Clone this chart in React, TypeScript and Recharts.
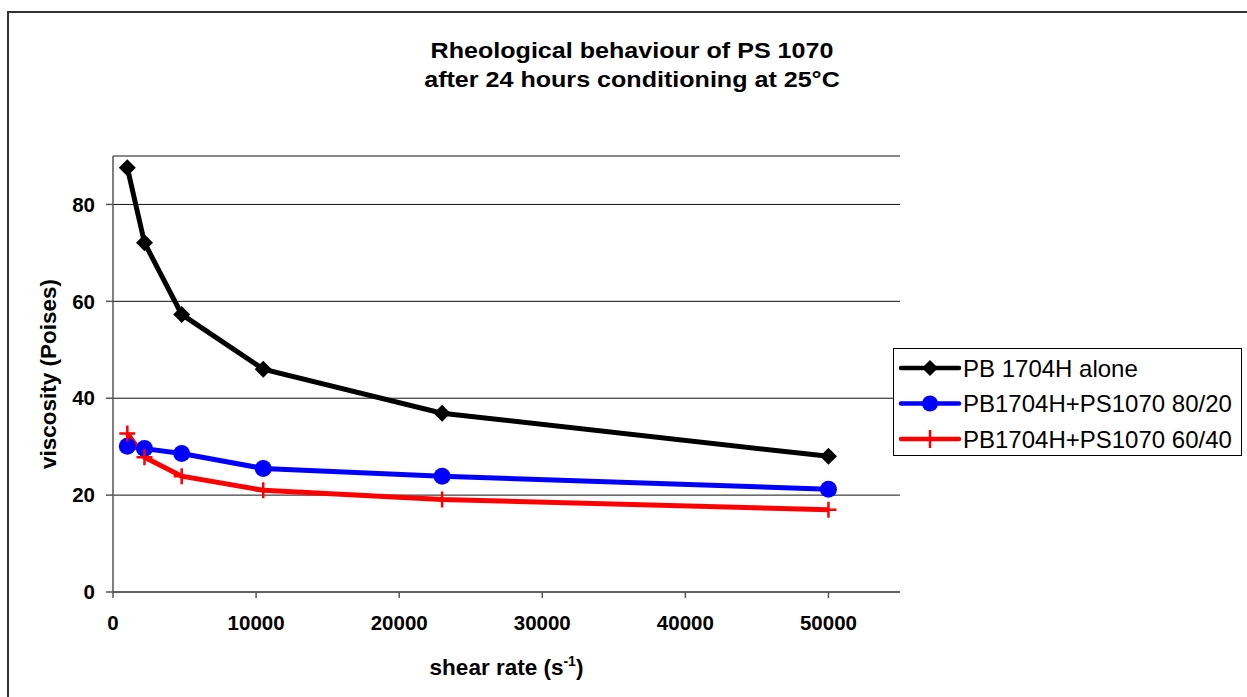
import React from 'react';
import { LineChart, Line, XAxis, YAxis, CartesianGrid, Legend } from 'recharts';

const shearRate = [1000, 2200, 4800, 10500, 23000, 50000];
const pbAlone = [87.6, 72.1, 57.3, 46.0, 36.9, 28.0];
const blend8020 = [30.1, 29.6, 28.6, 25.5, 23.9, 21.2];
const blend6040 = [32.7, 27.8, 23.9, 21.0, 19.1, 17.0];

const xTicks = [0, 10000, 20000, 30000, 40000, 50000];
const yTicks = [0, 20, 40, 60, 80];

const seriesNames = ['PB 1704H alone', 'PB1704H+PS1070 80/20', 'PB1704H+PS1070 60/40'];
const seriesColors = ['#000000', '#0000FF', '#FF0000'];

const titleLines = ['Rheological behaviour of PS 1070', 'after 24 hours conditioning at 25°C'];

const data = shearRate.map((x, i) => ({
  x,
  a: pbAlone[i],
  b: blend8020[i],
  c: blend6040[i],
}));

const FONT = '"Liberation Sans", Arial, Helvetica, sans-serif';

const DiamondDot = (props: any) => {
  const { cx, cy, index } = props;
  if (cx == null || cy == null) return null;
  const r = 8.5;
  return (
    <path
      key={`d-${index}`}
      d={`M${cx},${cy - r} L${cx + r},${cy} L${cx},${cy + r} L${cx - r},${cy} Z`}
      fill="#000"
    />
  );
};

const CircleDot = (props: any) => {
  const { cx, cy, index } = props;
  if (cx == null || cy == null) return null;
  return <circle key={`c-${index}`} cx={cx} cy={cy} r={8.5} fill="#0000FF" />;
};

const PlusDot = (props: any) => {
  const { cx, cy, index } = props;
  if (cx == null || cy == null) return null;
  const r = 8;
  return (
    <path
      key={`p-${index}`}
      d={`M${cx - r},${cy} L${cx + r},${cy} M${cx},${cy - r} L${cx},${cy + r}`}
      stroke="#FF0000"
      strokeWidth={2.5}
      fill="none"
    />
  );
};

const LegendMarker = ({ i, x, y }: { i: number; x: number; y: number }) => {
  if (i === 0) {
    const r = 8;
    return <path d={`M${x},${y - r} L${x + r},${y} L${x},${y + r} L${x - r},${y} Z`} fill="#000" />;
  }
  if (i === 1) return <circle cx={x} cy={y} r={8} fill="#0000FF" />;
  return (
    <path d={`M${x},${y - 9} L${x},${y + 9}`} stroke="#FF0000" strokeWidth={2.5} />
  );
};

const renderLegend = () => (
  <div
    style={{
      width: 347,
      height: 106,
      border: '1px solid #000',
      background: '#fff',
      boxSizing: 'content-box',
    }}
  >
    <svg width={347} height={106}>
      {seriesNames.map((name, i) => {
        const cy = 19 + i * 35.5;
        return (
          <g key={name}>
            <line x1={7} x2={65} y1={cy} y2={cy} stroke={seriesColors[i]} strokeWidth={4.5} strokeLinecap="round" />
            <LegendMarker i={i} x={36} y={cy} />
            <text x={69} y={cy} dy="0.36em" fontFamily={FONT} fontSize={24} fill="#000">
              {name}
            </text>
          </g>
        );
      })}
    </svg>
  </div>
);

const YLabel = (props: any) => {
  const vb = props.viewBox || {};
  const cx = vb.x + 28;
  const cy = vb.y + vb.height / 2;
  return (
    <text
      x={cx}
      y={cy}
      transform={`rotate(-90, ${cx}, ${cy})`}
      textAnchor="middle"
      dominantBaseline="central"
      fontFamily={FONT}
      fontSize={22.5}
      fontWeight="bold"
      fill="#000"
    >
      viscosity (Poises)
    </text>
  );
};

const XLabel = (props: any) => {
  const vb = props.viewBox || {};
  const cx = vb.x + vb.width / 2;
  const y = vb.y + 83;
  return (
    <text x={cx} y={y} textAnchor="middle" fontFamily={FONT} fontSize={22.5} fontWeight="bold" fill="#000">
      shear rate (s
      <tspan dy={-9} fontSize={14}>-1</tspan>
      <tspan dy={9}>)</tspan>
    </text>
  );
};

export default function App() {
  return (
    <div style={{ position: 'absolute', left: 0, top: 0, width: 1247, height: 697, background: '#fff', overflow: 'hidden' }}>
      <div
        style={{
          position: 'absolute',
          left: 7,
          top: 11,
          width: 1300,
          height: 800,
          border: '2px solid #333',
          boxSizing: 'border-box',
        }}
      />
      <div
        style={{
          position: 'absolute',
          left: 0,
          top: 35.5,
          width: 1264,
          textAlign: 'center',
          fontFamily: FONT,
          fontWeight: 'bold',
          fontSize: 22,
          lineHeight: '29.5px',
          color: '#000',
          transform: 'scaleX(1.14)',
          transformOrigin: '632px 0',
        }}
      >
        {titleLines.map((t) => (
          <div key={t}>{t}</div>
        ))}
      </div>
      <div style={{ position: 'absolute', left: 0, top: 0 }}>
        <LineChart
          width={1247}
          height={697}
          data={data}
          margin={{ top: 156, right: 347, bottom: 45, left: 20 }}
        >
          <CartesianGrid vertical={false} stroke="#111" strokeWidth={1} />
          <XAxis
            dataKey="x"
            type="number"
            domain={[0, 55000]}
            ticks={xTicks}
            height={60}
            tickSize={6}
            tickMargin={17}
            axisLine={{ stroke: '#555', strokeWidth: 1.5 }}
            tickLine={{ stroke: '#555', strokeWidth: 1.5 }}
            tick={{ fontFamily: FONT, fontSize: 20.5, fontWeight: 'bold', fill: '#000' }}
            label={<XLabel />}
            allowDataOverflow
          />
          <YAxis
            type="number"
            domain={[0, 90]}
            ticks={yTicks}
            width={93}
            tickSize={7}
            tickMargin={11}
            axisLine={{ stroke: '#555', strokeWidth: 1.5 }}
            tickLine={{ stroke: '#555', strokeWidth: 1.5 }}
            tick={{ fontFamily: FONT, fontSize: 20.5, fontWeight: 'bold', fill: '#000' }}
            label={<YLabel />}
            allowDataOverflow
          />
          <Legend
            layout="horizontal"
            verticalAlign="middle"
            align="center"
            content={renderLegend}
            wrapperStyle={{ left: 893, top: 348, width: 349, height: 108 }}
          />
          <Line
            type="linear"
            dataKey="a"
            name={seriesNames[0]}
            stroke={seriesColors[0]}
            strokeWidth={5}
            dot={<DiamondDot />}
            activeDot={false}
            isAnimationActive={false}
          />
          <Line
            type="linear"
            dataKey="b"
            name={seriesNames[1]}
            stroke={seriesColors[1]}
            strokeWidth={5}
            dot={<CircleDot />}
            activeDot={false}
            isAnimationActive={false}
          />
          <Line
            type="linear"
            dataKey="c"
            name={seriesNames[2]}
            stroke={seriesColors[2]}
            strokeWidth={5}
            dot={<PlusDot />}
            activeDot={false}
            isAnimationActive={false}
          />
        </LineChart>
      </div>
    </div>
  );
}
